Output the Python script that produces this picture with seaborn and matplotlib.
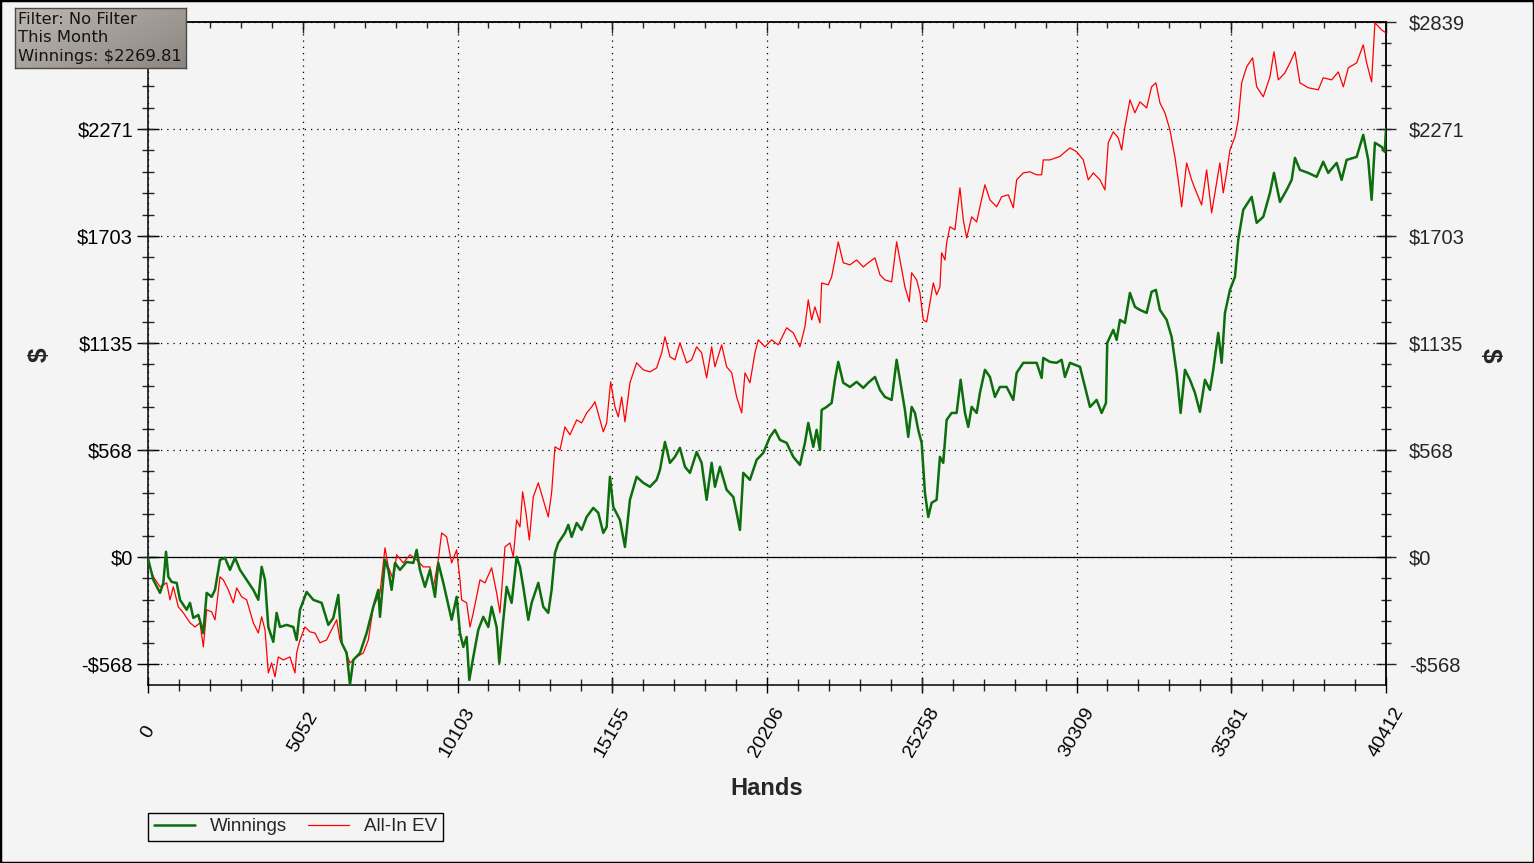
import numpy as np
import pandas as pd
import matplotlib
matplotlib.use('Agg')
import matplotlib.pyplot as plt
from matplotlib.patches import Rectangle
from matplotlib.lines import Line2D
import seaborn as sns

# Winnings (green): hands played -> cumulative $
win_hands = [0, 10, 175, 392, 500, 588, 664, 773, 936, 1044,
             1262, 1371, 1480, 1643, 1806, 1915, 2078, 2187, 2350, 2513,
             2676, 2840, 3003, 3220, 3438, 3601, 3710, 3819, 3927, 4090,
             4199, 4308, 4526, 4743, 4852, 4961, 5179, 5396, 5668, 5886,
             6049, 6212, 6321, 6484, 6593, 6702, 6920, 7137, 7355, 7518,
             7573, 7736, 7845, 7953, 8062, 8225, 8443, 8661, 8769, 8878,
             9041, 9204, 9368, 9476, 9640, 9912, 10075, 10184, 10293, 10402,
             10488, 10619, 10782, 10945, 11108, 11217, 11380, 11467, 11598, 11707,
             11870, 12033, 12142, 12250, 12414, 12523, 12740, 12903, 13066, 13175,
             13285, 13393, 13611, 13720, 13830, 13993, 14156, 14319, 14535, 14698,
             14862, 14972, 15080, 15189, 15406, 15569, 15732, 15950, 16168, 16385,
             16603, 16712, 16875, 17038, 17201, 17364, 17528, 17691, 17909, 18072,
             18235, 18399, 18507, 18670, 18888, 19105, 19215, 19323, 19431, 19649,
             19868, 20085, 20302, 20465, 20628, 20847, 21064, 21281, 21444, 21553,
             21716, 21826, 21934, 21990, 22153, 22316, 22424, 22532, 22695, 22913,
             23132, 23348, 23511, 23730, 23893, 24056, 24275, 24438, 24545, 24708,
             24817, 24928, 25035, 25143, 25254, 25362, 25470, 25580, 25743, 25851,
             25959, 26070, 26233, 26396, 26527, 26668, 26776, 26887, 27050, 27157,
             27320, 27483, 27646, 27809, 28028, 28245, 28355, 28572, 28789, 29008,
             29171, 29225, 29441, 29660, 29823, 29932, 30095, 30422, 30585, 30749,
             30966, 31130, 31271, 31313, 31509, 31619, 31727, 31890, 32053, 32216,
             32379, 32598, 32761, 32901, 33032, 33251, 33414, 33578, 33708, 33849,
             34012, 34175, 34338, 34502, 34665, 34773, 34936, 35047, 35155, 35318,
             35481, 35589, 35752, 36027, 36190, 36406, 36624, 36755, 36950, 37170,
             37333, 37440, 37603, 37874, 38147, 38363, 38526, 38801, 38964, 39127,
             39454, 39669, 39832, 39943, 40050, 40270, 40370, 40412]
win_vals = [0, -16, -122, -191, -138, 27, -106, -133, -138, -228,
            -281, -244, -324, -308, -404, -191, -212, -175, -16, -5,
            -69, -5, -69, -122, -175, -228, -53, -122, -372, -451,
            -297, -372, -361, -372, -441, -281, -186, -228, -244, -361,
            -324, -202, -456, -510, -679, -547, -510, -404, -265, -175,
            -318, -16, -69, -175, -32, -69, -27, -32, 37, -69,
            -159, -69, -212, -32, -138, -334, -212, -404, -478, -425,
            -653, -531, -387, -318, -372, -265, -372, -563, -334, -159,
            -244, 0, -53, -159, -334, -244, -138, -265, -297, -175,
            21, 74, 127, 170, 106, 180, 143, 212, 260, 234,
            127, 159, 425, 265, 196, 53, 303, 425, 393, 372,
            409, 462, 610, 499, 531, 579, 478, 446, 557, 499,
            303, 499, 372, 478, 356, 318, 234, 143, 446, 409,
            515, 552, 637, 674, 621, 605, 531, 488, 605, 711,
            584, 674, 568, 780, 796, 817, 940, 1035, 924, 902,
            929, 897, 924, 955, 886, 849, 833, 1046, 940, 780,
            637, 796, 764, 674, 605, 340, 212, 287, 303, 531,
            499, 727, 764, 764, 940, 764, 690, 796, 764, 871,
            993, 955, 849, 902, 902, 833, 977, 1030, 1030, 1030,
            950, 1056, 1035, 1030, 1046, 955, 1030, 1009, 902, 796,
            833, 764, 817, 1136, 1205, 1152, 1258, 1242, 1401, 1327,
            1311, 1295, 1407, 1417, 1311, 1258, 1168, 977, 764, 993,
            940, 871, 770, 940, 886, 993, 1189, 1030, 1295, 1417,
            1486, 1683, 1842, 1911, 1773, 1805, 1932, 2038, 1884, 1948,
            2001, 2118, 2054, 2038, 2017, 2097, 2038, 2091, 2001, 2107,
            2123, 2240, 2107, 1895, 2198, 2176, 2150, 2270]

# All-In EV (red)
ev_hands = [0, 10, 175, 392, 610, 719, 827, 990, 1153, 1371,
            1534, 1697, 1806, 1915, 2078, 2187, 2350, 2459, 2622, 2785,
            2894, 3057, 3220, 3438, 3601, 3710, 3819, 3927, 4036, 4145,
            4254, 4417, 4634, 4798, 4852, 4961, 5124, 5287, 5450, 5614,
            5831, 5940, 6158, 6266, 6430, 6593, 6811, 7028, 7192, 7355,
            7573, 7736, 7845, 8008, 8116, 8334, 8552, 8769, 8987, 9204,
            9313, 9476, 9585, 9748, 9912, 10075, 10184, 10238, 10402, 10511,
            10619, 10837, 11000, 11217, 11380, 11489, 11653, 11816, 11924, 12033,
            12142, 12230, 12338, 12447, 12577, 12740, 12903, 13066, 13175, 13285,
            13448, 13611, 13774, 13993, 14156, 14319, 14483, 14590, 14753, 14862,
            14972, 15102, 15243, 15352, 15462, 15569, 15732, 15950, 16168, 16385,
            16603, 16768, 16875, 17038, 17201, 17364, 17583, 17746, 17909, 18072,
            18235, 18399, 18507, 18726, 18888, 19053, 19215, 19380, 19487, 19649,
            19813, 19921, 20140, 20358, 20574, 20847, 21064, 21281, 21444, 21553,
            21664, 21771, 21934, 21990, 22206, 22316, 22424, 22532, 22695, 22913,
            23132, 23348, 23511, 23730, 23893, 24056, 24275, 24438, 24545, 24708,
            24850, 24928, 25091, 25199, 25308, 25417, 25525, 25634, 25743, 25851,
            25907, 26015, 26070, 26178, 26341, 26504, 26613, 26723, 26887, 27050,
            27157, 27320, 27483, 27702, 27865, 28082, 28245, 28355, 28572, 28789,
            29008, 29171, 29225, 29441, 29760, 30095, 30314, 30531, 30693, 30857,
            31075, 31238, 31346, 31509, 31672, 31783, 31890, 32053, 32216, 32379,
            32598, 32761, 32901, 33032, 33195, 33358, 33521, 33630, 33741, 33904,
            34067, 34230, 34393, 34557, 34720, 34883, 34990, 35099, 35210, 35318,
            35481, 35589, 35700, 35863, 36058, 36190, 36406, 36624, 36755, 36896,
            37114, 37277, 37440, 37603, 37874, 38201, 38363, 38638, 38855, 39019,
            39182, 39454, 39669, 39780, 39943, 40050, 40270, 40412]
ev_vals = [0, -32, -106, -159, -138, -228, -159, -265, -297, -350,
           -372, -350, -478, -281, -292, -334, -106, -122, -175, -244,
           -165, -212, -228, -350, -404, -318, -387, -616, -563, -637,
           -531, -547, -531, -616, -510, -441, -372, -398, -404, -456,
           -441, -404, -334, -441, -494, -563, -531, -510, -441, -265,
           -191, 48, -53, -122, 11, -32, 11, -16, -53, -53,
           -165, -16, 127, 106, -32, 37, -122, -228, -244, -372,
           -297, -122, -138, -58, -191, -297, 53, 74, 0, 196,
           159, 345, 234, 90, 318, 393, 303, 212, 340, 584,
           568, 690, 648, 727, 711, 764, 796, 823, 727, 664,
           711, 929, 796, 743, 849, 717, 924, 1030, 993, 982,
           1003, 1083, 1168, 1062, 1046, 1136, 1030, 1046, 1115, 1083,
           950, 1115, 1009, 1125, 1009, 977, 849, 764, 977, 924,
           1083, 1152, 1115, 1152, 1125, 1216, 1189, 1115, 1221, 1364,
           1258, 1327, 1242, 1454, 1444, 1486, 1576, 1672, 1561, 1550,
           1576, 1539, 1561, 1587, 1497, 1470, 1460, 1672, 1576, 1433,
           1354, 1508, 1470, 1401, 1258, 1247, 1348, 1454, 1391, 1433,
           1614, 1576, 1667, 1752, 1736, 1959, 1789, 1693, 1805, 1778,
           1858, 1975, 1895, 1858, 1911, 1922, 1853, 2001, 2038, 2044,
           2028, 2028, 2107, 2107, 2125, 2171, 2150, 2107, 2001, 2038,
           2001, 1948, 2198, 2256, 2224, 2160, 2282, 2426, 2357, 2415,
           2383, 2495, 2516, 2410, 2357, 2267, 2123, 2001, 1858, 2091,
           2001, 1932, 1868, 2054, 1826, 1985, 2091, 1932, 2038, 2160,
           2229, 2320, 2516, 2601, 2649, 2495, 2442, 2548, 2681, 2532,
           2569, 2622, 2681, 2516, 2490, 2479, 2543, 2532, 2574, 2495,
           2596, 2622, 2718, 2622, 2521, 2835, 2797, 2781]

x_ticks = [0, 5052, 10103, 15155, 20206, 25258, 30309, 35361, 40412]
y_ticks = [-568, 0, 568, 1135, 1703, 2271, 2839]
y_labels = ['-$568', '$0', '$568', '$1135', '$1703', '$2271', '$2839']
info_lines = ['Filter: No Filter', 'This Month', 'Winnings: $2269.81']

sns.set_style('ticks')
plt.rcParams['font.family'] = ['Liberation Sans', 'DejaVu Sans']

bg = '#f4f4f4'
W, H = 1534, 863
fig = plt.figure(figsize=(W / 100, H / 100), dpi=100, facecolor=bg)
ax = fig.add_axes([148 / W, 1 - 685 / H, 1238 / W, 663 / H])
ax.set_facecolor(bg)

ax.axhline(0, color='black', lw=0.9, zorder=1)
sns.lineplot(x=ev_hands, y=ev_vals, color='#ff0000', lw=0.9, estimator=None, ax=ax, zorder=3)
sns.lineplot(x=win_hands, y=win_vals, color='#0c6e0c', lw=1.8, estimator=None, ax=ax, zorder=4)

ax.set_xlim(0, 40412)
ax.set_ylim(-680, 2839)
ax.set_xlabel('')
ax.set_ylabel('')

ax.set_xticks(x_ticks)
ax.set_xticklabels([str(v) for v in x_ticks], rotation=60, ha='center', va='center', fontsize=14)
ax.set_xticks(np.linspace(0, 40412, 41), minor=True)
ax.set_yticks(y_ticks)
# the top-left label sits under the filter box in the original, so it is left blank here
ax.set_yticklabels(y_labels[:-1] + [''], fontsize=14.5)
ax.set_yticks(np.linspace(-568, 2839, 31), minor=True)

ax.tick_params(axis='x', which='major', direction='inout', length=12, width=1, pad=28, colors='black')
ax.tick_params(axis='x', which='minor', direction='inout', length=8.5, width=1)
ax.tick_params(axis='y', which='major', direction='inout', length=16.5, width=1, pad=2.5, colors='black')
ax.tick_params(axis='y', which='minor', direction='inout', length=8.5, width=1)

ax.grid(which='major', color='black', linestyle=(0, (1, 4)), linewidth=0.9)
for s in ax.spines.values():
    s.set_color('black')
    s.set_linewidth(1.1)

# top ticks point inward, no labels
top = ax.secondary_xaxis('top')
top.set_xticks(x_ticks)
top.set_xticks(np.linspace(0, 40412, 41), minor=True)
top.tick_params(which='major', direction='in', length=8, width=1, labeltop=False)
top.tick_params(which='minor', direction='in', length=4.3, width=1)
top.spines['top'].set_linewidth(1.1)

# right axis repeats the dollar labels
right = ax.secondary_yaxis('right')
right.set_yticks(y_ticks)
right.set_yticklabels(y_labels, fontsize=14.5)
right.set_yticks(np.linspace(-568, 2839, 31), minor=True)
right.tick_params(which='major', direction='inout', length=15, width=1, pad=9)
right.tick_params(which='minor', direction='inout', length=7, width=1)
right.spines['right'].set_linewidth(1.1)

fig.text(767 / W, 1 - 788 / H, 'Hands', ha='center', va='center', fontsize=17, fontweight='bold')
fig.text(40 / W, 1 - 355 / H, '$', ha='center', va='center', rotation=90, fontsize=19, fontweight='bold')
fig.text(1490 / W, 1 - 355 / H, '$', ha='center', va='center', rotation=270, fontsize=19, fontweight='bold')

# filter info box with a grey gradient
box = fig.add_axes([15 / W, 1 - 68 / H, 171 / W, 60 / H])
gx, gy = np.meshgrid(np.linspace(0, 1, 200), np.linspace(0, 1, 60))
grad = 0.6 * gx + 0.4 * gy
c0 = np.array([0.74, 0.72, 0.70])
c1 = np.array([0.55, 0.52, 0.50])
img = c0[None, None, :] * (1 - grad[..., None]) + c1[None, None, :] * grad[..., None]
box.imshow(img, aspect='auto', extent=(0, 1, 0, 1))
box.set_xticks([])
box.set_yticks([])
for s in box.spines.values():
    s.set_color('#4a4a4a')
    s.set_linewidth(1.0)
for i, line in enumerate(info_lines):
    fig.text(18 / W, 1 - (19 + 19 * i) / H, line, ha='left', va='center',
             fontsize=11.8, family=['DejaVu Sans'], color='#141414')

handles = [Line2D([], [], color='#0c6e0c', lw=1.8), Line2D([], [], color='#ff0000', lw=0.9)]
leg = fig.legend(handles, ['Winnings', 'All-In EV'], loc='lower left',
                 bbox_to_anchor=(148 / W, 1 - 841 / H), ncol=2, frameon=True,
                 fancybox=False, edgecolor='black', facecolor=bg, framealpha=1,
                 fontsize=13.5, handlelength=2.2, handletextpad=0.8, columnspacing=1.1,
                 borderaxespad=0, borderpad=0.3)
leg.get_frame().set_linewidth(1.0)

fig.add_artist(Rectangle((0, 0), 1, 1, transform=fig.transFigure, fill=False, ec='black', lw=2.5))

fig.savefig('out.png', dpi=100, facecolor=fig.get_facecolor())
